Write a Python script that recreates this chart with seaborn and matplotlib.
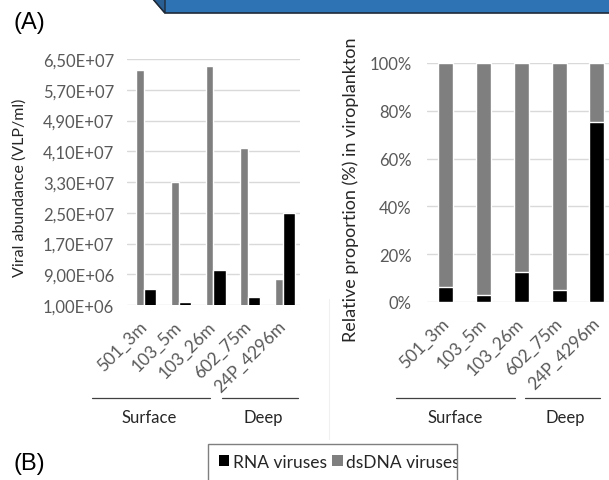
import matplotlib
matplotlib.use("Agg")
import matplotlib.pyplot as plt
from matplotlib.patches import Polygon, Rectangle, Patch
from matplotlib.lines import Line2D
from matplotlib.ticker import FuncFormatter, PercentFormatter
import seaborn as sns
import pandas as pd

# Samples (station_depth) and viral abundances (VLP/ml)
samples = ["501_3m", "103_5m", "103_26m", "602_75m", "24P_4296m"]
dsdna_abundance = [6.22e7, 3.30e7, 6.32e7, 4.19e7, 7.8e6]
rna_abundance = [5.2e6, 1.8e6, 1.01e7, 3.0e6, 2.50e7]

# Share of RNA viruses in the viroplankton (fraction)
rna_fraction = [0.063, 0.029, 0.126, 0.050, 0.753]
total_fraction = [1.0, 1.0, 1.0, 1.0, 1.0]

abundance_ticks = [1.0e6, 9.0e6, 1.7e7, 2.5e7, 3.3e7, 4.1e7, 4.9e7, 5.7e7, 6.5e7]
percent_ticks = [0.0, 0.2, 0.4, 0.6, 0.8, 1.0]

GREY = "#7f7f7f"
BLACK = "#000000"
TICK_C = "#595959"
GRID_C = "#d9d9d9"
TEXT_C = "#262626"

sns.set_theme(style="white")
plt.rcParams["font.family"] = ["Lato", "DejaVu Sans"]

W, H = 609, 481
fig = plt.figure(figsize=(W / 100, H / 100), dpi=100)


def fx(px):
    return px / W


def fy(py):
    return 1 - py / H


# Blue banner at the top edge
banner = Polygon([(fx(153), fy(0)), (fx(165), fy(14)), (fx(612), fy(14)), (fx(612), fy(-2))],
                 closed=True, transform=fig.transFigure, facecolor="#2e74b5",
                 edgecolor="#1f2a38", linewidth=1.2)
fig.add_artist(banner)
side = Polygon([(fx(153), fy(0)), (fx(165), fy(14)), (fx(165), fy(0))],
               closed=True, transform=fig.transFigure, facecolor="#2a5f94",
               edgecolor="#1f2a38", linewidth=1.0)
fig.add_artist(side)

# ---- Left panel: absolute abundance ----
abund = pd.DataFrame({
    "sample": samples * 2,
    "value": dsdna_abundance + rna_abundance,
    "type": ["dsDNA viruses"] * len(samples) + ["RNA viruses"] * len(samples),
})
ax1 = fig.add_axes([fx(126.6), fy(306), fx(300) - fx(126.6), fy(60) - fy(306)])
sns.barplot(data=abund, x="sample", y="value", hue="type",
            hue_order=["dsDNA viruses", "RNA viruses"],
            palette=[GREY, BLACK], width=0.6, saturation=1,
            legend=False, ax=ax1)
# narrower grey bars, wider black bars, meeting at the category centre
for p in ax1.patches:
    fc = p.get_facecolor()
    if fc[0] > 0.2:
        right = p.get_x() + p.get_width()
        p.set_width(0.22)
        p.set_x(right - 0.22)
    else:
        left = p.get_x()
        p.set_width(0.36)
        p.set_x(left)
ax1.set_ylim(1.0e6, 6.5e7)
ax1.set_xlim(-0.5, 4.5)
ax1.set_yticks(abundance_ticks)
ax1.yaxis.set_major_formatter(FuncFormatter(
    lambda v, _: ("%.2E" % v).replace(".", ",")))
ax1.set_xlabel("")
ax1.set_ylabel("")

# ---- Right panel: relative proportion ----
ax2 = fig.add_axes([fx(427), fy(303), fx(615.75) - fx(427), fy(64) - fy(303)])
sns.barplot(x=samples, y=total_fraction, color=GREY, width=0.4,
            saturation=1, ax=ax2)
sns.barplot(x=samples, y=rna_fraction, color=BLACK, width=0.4,
            saturation=1, ax=ax2)
ax2.set_ylim(0, 1.0)
ax2.set_xlim(-0.5, 4.5)
ax2.set_yticks(percent_ticks)
ax2.yaxis.set_major_formatter(PercentFormatter(1.0, decimals=0))
ax2.set_xlabel("")
ax2.set_ylabel("")

for ax in (ax1, ax2):
    for s in ax.spines.values():
        s.set_visible(False)
    ax.set_axisbelow(True)
    ax.yaxis.grid(True, color=GRID_C, linewidth=1.0)
    ax.xaxis.grid(False)
    ax.tick_params(axis="both", length=0, colors=TICK_C)
    ax.tick_params(axis="y", labelsize=12, pad=9)
    ax.tick_params(axis="x", labelsize=12.5, pad=13)
    for lbl in ax.get_xticklabels():
        lbl.set_rotation(45)
        lbl.set_ha("right")
        lbl.set_va("center")
        lbl.set_rotation_mode("anchor")

ax2.tick_params(axis="y", pad=11)

fig.text(fx(20), fy(188), "Viral abundance (VLP/ml)", rotation=90,
         ha="center", va="center", fontsize=11.5, color=TEXT_C)
fig.text(fx(351), fy(190), "Relative proportion (%) in viroplankton", rotation=90,
         ha="center", va="center", fontsize=13, color=TEXT_C)

# Surface / Deep group brackets below the x labels
groups = [
    (92, 210, "Surface", 149), (222, 298, "Deep", 263),
    (396, 515, "Surface", 455), (525, 600, "Deep", 565),
]
for x0, x1, name, xc in groups:
    fig.add_artist(Line2D([fx(x0), fx(x1)], [fy(399), fy(399)],
                          transform=fig.transFigure, color="#404040", linewidth=0.9))
    fig.text(fx(xc), fy(418), name, ha="center", va="center",
             fontsize=12, color=TEXT_C)

# faint separator between the panels
fig.add_artist(Line2D([fx(329), fx(329)], [fy(300), fy(440)],
                      transform=fig.transFigure, color="#f0f0f0", linewidth=0.8))

# Legend with a frame that trims the last label
frame = Rectangle((fx(208), fy(500)), fx(457) - fx(208), fy(445) - fy(500),
                  transform=fig.transFigure, facecolor="none",
                  edgecolor="#7f7f7f", linewidth=1.0)
fig.add_artist(frame)
handles = [Patch(facecolor=BLACK, edgecolor="none"),
           Patch(facecolor=GREY, edgecolor="none")]
leg = fig.legend(handles, ["RNA viruses", "dsDNA viruses"], loc="center left",
                 bbox_to_anchor=(fx(219), fy(463)), ncol=2, frameon=False,
                 fontsize=12.5, handlelength=0.6, handleheight=0.6,
                 handletextpad=0.2, columnspacing=0.3, borderpad=0,
                 borderaxespad=0)
for t in leg.get_texts():
    t.set_color(TEXT_C)
    t.set_clip_on(True)
    t.set_clip_path(frame)

fig.text(fx(13), fy(23), "(A)", fontsize=17, ha="left", va="center",
         family=["Liberation Sans", "DejaVu Sans"], color="black")
fig.text(fx(13), fy(464), "(B)", fontsize=17, ha="left", va="center",
         family=["Liberation Sans", "DejaVu Sans"], color="black")

fig.savefig("out.png", dpi=100)
